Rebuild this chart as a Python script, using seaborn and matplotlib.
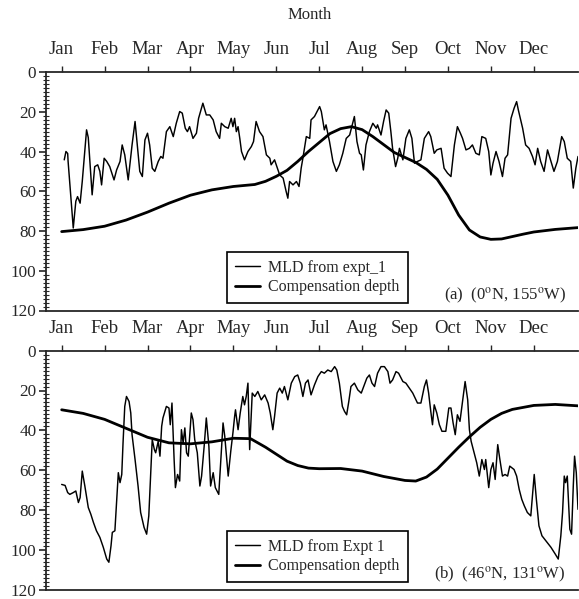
import numpy as np
import pandas as pd
import matplotlib
matplotlib.use("Agg")
import matplotlib.pyplot as plt
import seaborn as sns
from matplotlib.ticker import MultipleLocator

# ---------------- data ----------------
month_labels = ["Jan", "Feb", "Mar", "Apr", "May", "Jun",
                "Jul", "Aug", "Sep", "Oct", "Nov", "Dec"]

# panel (a): MLD (month position, depth in m)
a_mld_month = [0.06, 0.10, 0.14, 0.15, 0.27, 0.33, 0.37, 0.43, 0.48, 0.58, 0.62, 0.71, 0.77, 0.84,
               0.89, 0.93, 0.99, 1.05, 1.12, 1.22, 1.28, 1.36, 1.41, 1.47, 1.55, 1.64, 1.71, 1.74,
               1.82, 1.88, 1.94, 2.00, 2.05, 2.11, 2.17, 2.25, 2.31, 2.36, 2.44, 2.52, 2.60, 2.67,
               2.75, 2.81, 2.88, 2.93, 2.98, 3.06, 3.14, 3.19, 3.29, 3.37, 3.45, 3.53, 3.60, 3.68,
               3.72, 3.80, 3.88, 3.95, 3.99,
               4.03, 4.07, 4.11, 4.15, 4.19, 4.26, 4.34, 4.42, 4.47, 4.53, 4.61, 4.69, 4.77, 4.85,
               4.88, 4.96, 5.00, 5.08, 5.16, 5.23, 5.27, 5.31, 5.39, 5.47, 5.53, 5.58, 5.62, 5.70,
               5.78, 5.81, 5.89, 5.95, 6.01, 6.05, 6.12, 6.16, 6.24, 6.32, 6.40, 6.47, 6.55, 6.63,
               6.71, 6.77, 6.82, 6.88, 6.94, 6.98, 7.03, 7.09, 7.17, 7.25, 7.33, 7.36, 7.44, 7.50,
               7.56, 7.62, 7.67, 7.71, 7.78, 7.83,
               7.87, 7.95, 8.02, 8.10, 8.16, 8.22, 8.29, 8.37, 8.45, 8.55, 8.60, 8.68, 8.74, 8.84,
               8.91, 8.99, 9.07, 9.15, 9.22, 9.29, 9.34, 9.42, 9.50, 9.57, 9.65, 9.73, 9.79, 9.88,
               9.95, 10.00, 10.05, 10.12, 10.19, 10.27, 10.33, 10.39, 10.47, 10.54, 10.60, 10.64,
               10.74, 10.81, 10.89, 10.97, 11.03, 11.09, 11.16, 11.24, 11.32, 11.40, 11.47, 11.55,
               11.65, 11.71, 11.78, 11.86, 11.92, 11.98, 12.03]
a_mld_depth = [44.2, 40.0, 41.0, 45.0, 78.5, 65.0, 62.7, 66.0, 55.0, 29.1, 33.0, 61.8, 47.6, 46.7,
               50.0, 56.8, 43.4, 45.0, 47.6, 54.3, 49.3, 45.0, 36.7, 41.7, 54.3, 36.7, 24.9, 31.7,
               50.0, 52.6, 34.2, 30.8, 36.7, 48.4, 50.0, 45.0, 42.5, 43.4, 30.0, 27.5, 32.5, 25.8,
               19.9, 20.7, 28.3, 30.0, 27.5, 33.4, 30.8, 23.3, 15.7, 21.6, 21.6, 24.1, 30.0, 33.4,
               25.8, 27.5, 28.3, 23.3, 27.5,
               23.3, 30.0, 27.5, 33.4, 40.0, 44.2, 40.0, 37.5, 35.0, 24.9, 30.0, 32.5, 41.7, 43.4,
               46.7, 44.2, 46.7, 51.8, 53.4, 60.1, 63.5, 55.1, 56.8, 55.1, 57.6, 48.4, 43.4, 32.5,
               33.4, 24.1, 22.4, 19.9, 17.4, 19.9, 29.1, 26.6, 35.0, 45.0, 50.0, 46.7, 40.9, 33.4,
               31.7, 26.6, 22.4, 35.0, 40.9, 41.7, 49.3, 36.7, 30.0, 25.8, 28.3, 26.6, 31.7, 24.9,
               19.1, 20.7, 30.0, 38.4, 47.6, 43.4,
               38.4, 44.2, 33.4, 29.1, 33.4, 45.9, 45.0, 44.2, 33.4, 30.0, 32.5, 40.9, 39.2, 38.4,
               48.4, 50.9, 52.6, 36.7, 27.5, 30.8, 33.4, 39.2, 38.4, 36.7, 40.9, 41.7, 32.5, 33.4,
               40.0, 51.8, 45.9, 40.0, 45.0, 52.6, 43.4, 41.7, 23.3, 18.3, 14.9, 19.1,
               28.3, 36.7, 38.4, 42.5, 46.7, 38.4, 45.0, 50.0, 39.2, 45.0, 50.0, 45.0,
               32.5, 35.0, 43.4, 45.0, 58.4, 48.4, 42.5]

# panel (a): compensation depth
a_comp_month = [0.0, 0.5, 1.0, 1.5, 2.0, 2.5, 3.0, 3.5, 4.0, 4.5, 4.75, 5.0, 5.25, 5.5, 5.75,
                6.0, 6.25, 6.5, 6.75, 7.0, 7.25, 7.5, 7.75, 8.0, 8.25, 8.5, 8.75, 9.0, 9.25,
                9.5, 9.75, 10.0, 10.25, 10.5, 10.75, 11.0, 11.5, 12.03]
a_comp_depth = [80.3, 79.3, 77.6, 74.5, 70.5, 66.0, 62.0, 59.3, 57.6, 56.6, 55.0, 52.5, 49.5,
                45.0, 40.0, 35.5, 31.0, 28.5, 27.5, 29.0, 32.5, 36.5, 40.5, 43.0, 45.5, 49.0,
                54.0, 62.0, 72.0, 79.5, 83.0, 84.2, 84.0, 82.8, 81.6, 80.5, 79.2, 78.3]

# panel (b): MLD
b_mld_month = [0.00, 0.08, 0.14, 0.19, 0.27, 0.33, 0.39, 0.43, 0.48, 0.54, 0.62, 0.68, 0.74, 0.81,
               0.89, 0.97, 1.05, 1.10, 1.15, 1.18, 1.24, 1.28, 1.32, 1.36, 1.40, 1.43, 1.47, 1.51,
               1.57, 1.61, 1.64, 1.71, 1.78, 1.84, 1.92, 1.98, 2.03, 2.08, 2.11, 2.16, 2.19, 2.25,
               2.29, 2.33, 2.36, 2.44, 2.50, 2.53, 2.57, 2.62, 2.65, 2.70, 2.75, 2.79, 2.83, 2.87,
               2.91, 2.95, 3.02, 3.06, 3.10, 3.16, 3.22, 3.26, 3.32, 3.37, 3.43, 3.47, 3.53, 3.58,
               3.66, 3.71, 3.76, 3.80, 3.88, 3.94, 3.99, 4.03,
               4.05, 4.11, 4.16, 4.22, 4.26, 4.30, 4.34, 4.38, 4.44, 4.50, 4.57, 4.65, 4.73, 4.81,
               4.86, 4.92, 4.96, 5.02, 5.08, 5.14, 5.19, 5.27, 5.35, 5.43, 5.50, 5.56, 5.62, 5.68,
               5.74, 5.81, 5.89, 5.97, 6.05, 6.12, 6.20, 6.28, 6.36, 6.41, 6.47, 6.54, 6.59, 6.64,
               6.69, 6.74, 6.82, 6.90, 6.98, 7.05, 7.11, 7.17, 7.23, 7.29, 7.36, 7.44, 7.52, 7.60,
               7.65, 7.71, 7.79, 7.85,
               7.95, 8.02, 8.10, 8.18, 8.29, 8.37, 8.45, 8.50, 8.55, 8.60, 8.64, 8.68, 8.74, 8.80,
               8.86, 8.95, 9.02, 9.07, 9.12, 9.17, 9.22, 9.28, 9.34, 9.40, 9.46, 9.50, 9.54, 9.61,
               9.67, 9.73, 9.79, 9.85, 9.88, 9.95, 10.00, 10.05, 10.10, 10.16, 10.21, 10.27, 10.33,
               10.39, 10.44, 10.54, 10.60, 10.66, 10.72, 10.78, 10.85, 10.93, 11.01, 11.06, 11.12,
               11.19, 11.28, 11.40, 11.50, 11.57, 11.63, 11.67, 11.71, 11.74, 11.78, 11.84, 11.88,
               11.92, 11.95, 11.99, 12.03]
b_mld_depth = [67.2, 67.7, 71.3, 72.2, 71.3, 70.5, 76.3, 73.8, 60.5, 68.0, 78.8, 82.2, 86.3, 90.5,
               93.8, 98.8, 104.7, 106.3, 98.0, 91.3, 90.5, 76.3, 61.3, 66.3, 62.2, 46.3, 28.0, 23.0,
               25.5, 31.3, 42.2, 54.7, 68.0, 81.3, 88.8, 92.2, 83.0, 59.7, 44.7, 49.7, 51.3, 45.5,
               53.0, 38.0, 33.8, 28.0, 28.8, 37.2, 26.3, 54.7, 68.8, 62.2, 65.5, 39.7, 46.3, 38.8,
               51.3, 53.0, 31.3, 34.7, 44.7, 51.3, 68.0, 63.0, 48.0, 33.8, 48.0, 68.0, 61.3, 68.8,
               72.2, 54.7, 36.3, 43.0, 63.0, 50.5, 41.3, 33.0,
               29.7, 39.7, 31.3, 23.0, 27.2, 23.0, 16.3, 49.7, 21.3, 23.0, 20.5, 24.7, 22.2, 26.3,
               31.3, 39.7, 33.0, 21.3, 18.8, 21.3, 18.0, 24.7, 16.3, 13.0, 12.2, 16.3, 23.0, 16.3,
               14.7, 22.2, 17.2, 13.0, 10.5, 11.3, 9.7, 10.5, 8.0, 9.7, 16.3, 28.0, 30.5, 32.2,
               25.5, 18.0, 16.3, 19.7, 21.3, 17.2, 13.8, 12.2, 16.3, 18.0, 11.3, 8.0, 8.0, 10.5,
               16.3, 14.7, 10.5, 11.3,
               15.5, 16.3, 18.8, 21.3, 26.3, 26.3, 18.0, 14.7, 21.3, 30.5, 37.2, 27.2, 31.3, 37.2,
               40.5, 40.5, 28.8, 28.8, 36.3, 42.2, 32.2, 35.5, 25.5, 15.5, 24.7, 39.7, 45.5, 51.3,
               56.3, 63.0, 54.7, 59.7, 54.7, 68.8, 59.7, 56.3, 64.7, 47.2, 54.7, 63.0, 62.2,
               63.0, 58.0, 59.7, 63.0, 69.7, 74.7, 78.0, 81.3, 83.0, 62.2, 74.7, 88.0,
               93.0, 95.5, 98.8, 102.2, 104.7, 93.0, 81.3, 63.0, 66.3, 63.0, 89.7, 92.2,
               68.0, 53.0, 61.3, 79.7]

# panel (b): compensation depth
b_comp_month = [0.0, 0.5, 1.0, 1.5, 2.0, 2.5, 3.0, 3.5, 4.0, 4.4, 4.75, 5.0, 5.25, 5.5, 5.75,
                6.0, 6.5, 7.0, 7.5, 8.0, 8.25, 8.5, 8.75, 9.0, 9.25, 9.5, 9.75, 10.0, 10.25,
                10.5, 11.0, 11.5, 12.03]
b_comp_depth = [29.7, 31.5, 34.5, 39.0, 43.5, 46.3, 46.8, 45.8, 44.0, 44.2, 48.5, 52.0, 55.5,
                57.7, 59.0, 59.3, 59.2, 60.5, 63.2, 65.2, 65.5, 63.5, 59.5, 54.0, 48.5, 43.3,
                38.5, 34.5, 31.5, 29.5, 27.5, 27.0, 27.7]

legend_a = ["MLD from expt_1", "Compensation depth"]
legend_b = ["MLD from Expt 1", "Compensation depth"]
tag_a = r"(a)  (0$^{\rm o}$N, 155$^{\rm o}$W)"
tag_b = r"(b)  (46$^{\rm o}$N, 131$^{\rm o}$W)"

# ---------------- style ----------------
sns.set_style("ticks")
plt.rcParams["font.family"] = ["Liberation Serif", "DejaVu Serif"]
plt.rcParams["mathtext.fontset"] = "stix"

W, H = 579, 599
fig = plt.figure(figsize=(W / 100, H / 100), dpi=100)
ax1 = fig.add_axes([46 / W, 1 - 310.5 / H, 532 / W, 238.5 / H])
ax2 = fig.add_axes([46 / W, 1 - 589.5 / H, 532 / W, 238.8 / H])


def draw(ax, mm, md, cm, cd, labels, tag):
    df_m = pd.DataFrame({"month": mm, "depth": md})
    df_c = pd.DataFrame({"month": cm, "depth": cd})
    sns.lineplot(data=df_m, x="month", y="depth", ax=ax, color="black", lw=1.05,
                 estimator=None, label=labels[0])
    sns.lineplot(data=df_c, x="month", y="depth", ax=ax, color="black", lw=2.0,
                 estimator=None, label=labels[1])
    ax.set_xlim(-0.365, 12.03)
    ax.set_ylim(120, 0)
    ax.set_xlabel("")
    ax.set_ylabel("")
    ax.set_xticks(range(12))
    ax.set_xticklabels(month_labels)
    ax.xaxis.tick_top()
    ax.tick_params(axis="x", which="major", direction="out", length=4, width=1,
                   pad=6, labelsize=13.5, top=True, bottom=False)
    ax.set_yticks(range(0, 121, 20))
    ax.yaxis.set_minor_locator(MultipleLocator(2))
    ax.tick_params(axis="y", which="major", direction="out", length=5, width=1.2,
                   pad=2, labelsize=12.3)
    ax.tick_params(axis="y", which="minor", direction="inout", length=4, width=0.8)
    ax.spines["right"].set_visible(False)
    for s in ["left", "top", "bottom"]:
        ax.spines[s].set_linewidth(1.3)
    leg = ax.legend(loc="lower left", bbox_to_anchor=(0.340, 0.031), frameon=True,
                    fancybox=False, edgecolor="black", framealpha=1, borderaxespad=0,
                    handlelength=1.6, fontsize=11.5, borderpad=0.5, labelspacing=0.2,
                    handletextpad=0.5)
    leg.get_frame().set_linewidth(1.2)
    ax.text(0.977, 0.061, tag, transform=ax.transAxes, ha="right", va="center",
            fontsize=12)


draw(ax1, a_mld_month, a_mld_depth, a_comp_month, a_comp_depth, legend_a, tag_a)
draw(ax2, b_mld_month, b_mld_depth, b_comp_month, b_comp_depth, legend_b, tag_b)

fig.text(310 / W, 1 - 15 / H, "Month", ha="center", va="center", fontsize=12)

fig.savefig("out.png", dpi=100)
